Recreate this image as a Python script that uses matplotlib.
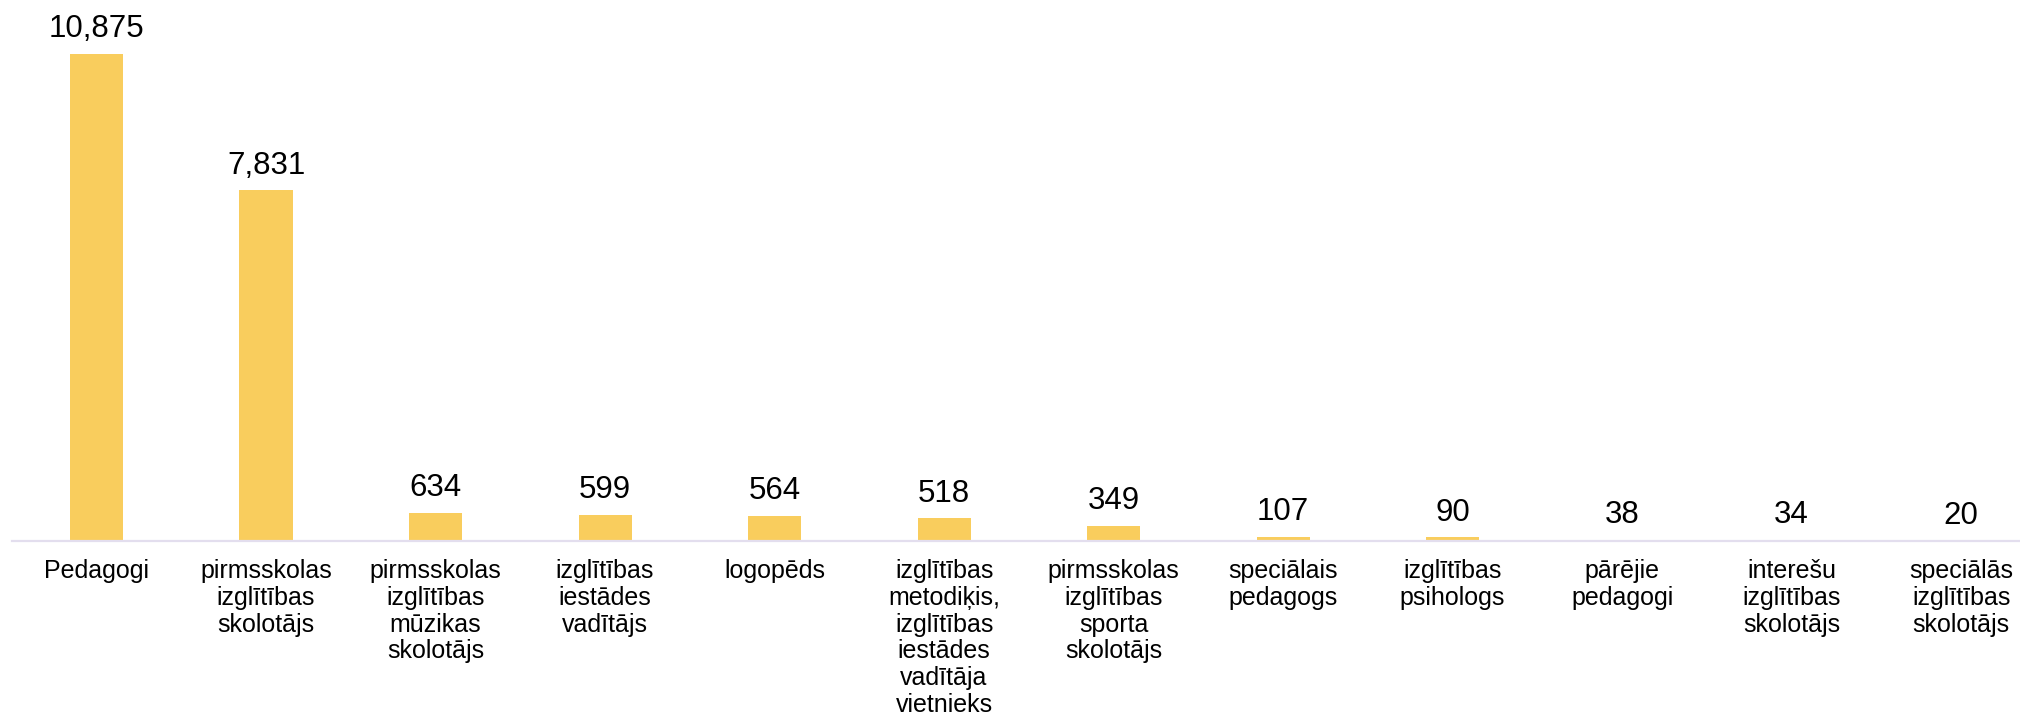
import matplotlib
matplotlib.use('Agg')
from matplotlib import pyplot as plt

plt.rcParams['font.family'] = ['Liberation Sans', 'DejaVu Sans']

# kategorijas un vērtības
categories = [
    'Pedagogi',
    'pirmsskolas\nizglītības\nskolotājs',
    'pirmsskolas\nizglītības\nmūzikas\nskolotājs',
    'izglītības\niestādes\nvadītājs',
    'logopēds',
    'izglītības\nmetodiķis,\nizglītības\niestādes\nvadītāja\nvietnieks',
    'pirmsskolas\nizglītības\nsporta\nskolotājs',
    'speciālais\npedagogs',
    'izglītības\npsihologs',
    'pārējie\npedagogi',
    'interešu\nizglītības\nskolotājs',
    'speciālās\nizglītības\nskolotājs',
]
values = [10875, 7831, 634, 599, 564, 518, 349, 107, 90, 38, 34, 20]

bar_color = '#F9CD5D'
axis_color = '#E3DEEE'

fig = plt.figure(figsize=(20.2, 7.2), dpi=100)
ax = fig.add_axes([0.00582, 0.248, 1.007, 0.752])

x = list(range(len(values)))
bars = ax.bar(x, values, width=0.313, color=bar_color, zorder=2)

for xi, v in zip(x, values):
    ax.annotate(f'{v:,}', xy=(xi, v), xytext=(0, 12), textcoords='offset points',
                ha='center', va='baseline', fontsize=22.5, color='#000000')

ax.set_xlim(-0.5, len(values) - 0.5)
ax.set_ylim(0, 12079)
ax.set_xticks(x)
ax.set_xticklabels(categories, fontsize=18, linespacing=1.15, color='#000000')
ax.tick_params(axis='x', length=0, pad=12.5)
ax.set_yticks([])

for side in ['top', 'left', 'right']:
    ax.spines[side].set_visible(False)
ax.spines['bottom'].set_color(axis_color)
ax.spines['bottom'].set_linewidth(1.6)

fig.savefig('out.png', dpi=100)
